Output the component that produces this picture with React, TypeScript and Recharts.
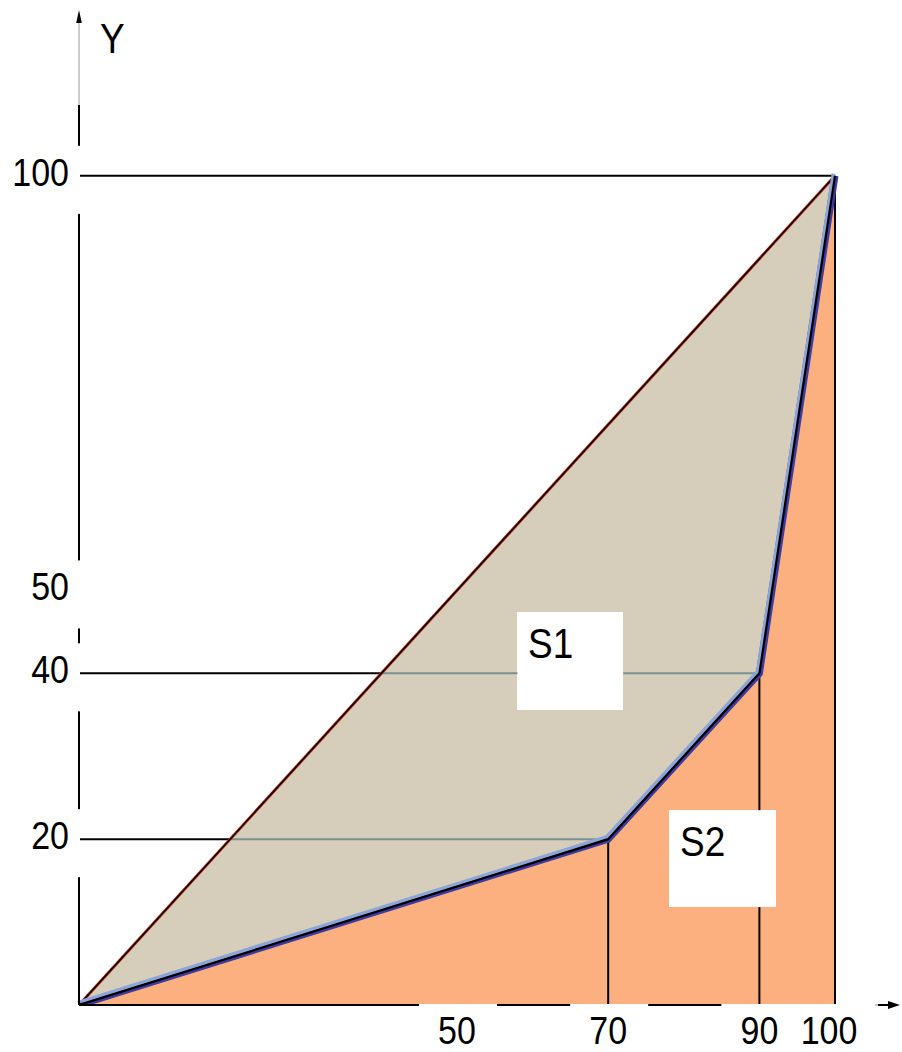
import React from 'react';
import {
  ComposedChart,
  Area,
  Line,
  XAxis,
  YAxis,
  ReferenceLine,
  ReferenceArea,
} from 'recharts';

// Lorenz curve: cumulative share of population (x) against cumulative share of income (y), in %
const populationShare = [0, 70, 90, 100];
const incomeShare = [0, 20, 40, 100];
const equalityLine = [0, 100];

const xTicks = [50, 70, 90, 100];
const yTicks = [20, 40, 50, 100];

// the white name boxes of the two areas, in data units
const areaBoxes = [
  { name: 'S1', x1: 58, x2: 72, y1: 35.6, y2: 47.4 },
  { name: 'S2', x1: 78, x2: 92.2, y1: 11.8, y2: 23.5 },
];

const lorenzData = populationShare.map((x, i) => ({ x, y: incomeShare[i] }));
const equalityData = equalityLine.map((x) => ({ x, y: x }));
// the kinks of the curve get guide lines back to both axes
const kinks = lorenzData.slice(1);

const FONT = '"Liberation Sans", Arial, sans-serif';
const BEIGE = '#d6cdbb';
const ORANGE = '#fdb07f';
const GUIDE_GREY = '#7a9191';

type Seg = { x1: number; y1: number; x2: number; y2: number };

// guide lines stop at the name boxes (they sit behind them in the original)
function cutByBoxes(seg: Seg): Seg[] {
  let parts = [seg];
  for (const b of areaBoxes) {
    parts = parts.flatMap((s) => {
      if (s.y1 === s.y2 && s.y1 > b.y1 && s.y1 < b.y2) {
        const lo = Math.min(s.x1, s.x2);
        const hi = Math.max(s.x1, s.x2);
        if (b.x2 <= lo || b.x1 >= hi) return [s];
        const out: Seg[] = [];
        if (b.x1 > lo) out.push({ ...s, x1: lo, x2: b.x1 });
        if (b.x2 < hi) out.push({ ...s, x1: b.x2, x2: hi });
        return out;
      }
      if (s.x1 === s.x2 && s.x1 > b.x1 && s.x1 < b.x2) {
        const lo = Math.min(s.y1, s.y2);
        const hi = Math.max(s.y1, s.y2);
        if (b.y2 <= lo || b.y1 >= hi) return [s];
        const out: Seg[] = [];
        if (b.y1 > lo) out.push({ ...s, y1: lo, y2: b.y1 });
        if (b.y2 < hi) out.push({ ...s, y1: b.y2, y2: hi });
        return out;
      }
      return [s];
    });
  }
  return parts;
}

const blackGuides: Seg[] = kinks.flatMap((p) => [
  { x1: 0, y1: p.y, x2: p.y, y2: p.y },
  ...cutByBoxes({ x1: p.x, y1: 0, x2: p.x, y2: p.y }),
]);
const greyGuides: Seg[] = kinks
  .filter((p) => p.x > p.y)
  .flatMap((p) => cutByBoxes({ x1: p.y, y1: p.y, x2: p.x, y2: p.y }));

function YTick({ x, y, payload }: any) {
  return (
    <g>
      <rect x={x - 69} y={y - 30} width={80} height={68} fill="#fff" stroke="none" />
      <text
        transform={`translate(${x},${y + 10}) scale(1,1.15)`}
        textAnchor="end"
        fontSize={34}
        fontFamily={FONT}
        fill="#000"
      >
        {payload.value}
      </text>
    </g>
  );
}

function XTick({ x, y, payload }: any) {
  return (
    <g>
      <rect x={x - 38} y={y - 1} width={78} height={48} fill="#fff" stroke="none" />
      <text
        transform={`translate(${x - (payload.value === 100 ? 6 : 0)},${y + 39}) scale(1,1.15)`}
        textAnchor="middle"
        fontSize={34}
        fontFamily={FONT}
        fill="#000"
      >
        {payload.value}
      </text>
    </g>
  );
}

function AxisTitle({ viewBox }: any) {
  const vb = viewBox ?? { x: 9, y: 10, width: 70 };
  return (
    <text
      transform={`translate(${vb.x + vb.width + 21},${vb.y + 43}) scale(1,1.15)`}
      fontSize={37}
      fontFamily={FONT}
      fill="#000"
    >
      Y
    </text>
  );
}

function labelBox(text: string) {
  return function Box({ x, y, width, height }: any) {
    const left = Math.round(x);
    const top = Math.round(y);
    return (
      <g>
        <rect
          x={left}
          y={top}
          width={Math.round(width)}
          height={Math.round(height)}
          fill="#fff"
          fillOpacity={1}
          stroke="none"
        />
        <text
          transform={`translate(${left + 11},${top + 46}) scale(1,1.15)`}
          fontSize={37}
          fontFamily={FONT}
          fill="#000"
        >
          {text}
        </text>
      </g>
    );
  };
}

export default function App() {
  return (
    <div>
      <style>{`html,body{margin:0;overflow:hidden}.recharts-wrapper svg{display:block}.lorenz-hi .recharts-line-curve{transform:translate(-1.6px,-2.2px)}`}</style>
      <ComposedChart
        width={902}
        height={1052}
        margin={{ top: 10, right: 2, bottom: 0, left: 9 }}
      >
        <defs>
          <marker
            id="arrowX"
            markerUnits="userSpaceOnUse"
            markerWidth={24}
            markerHeight={10}
            refX={22}
            refY={5}
            orient="auto-start-reverse"
          >
            <path d="M0,5 H14" stroke="#000" strokeWidth={2} />
            <path d="M10,1 L22,5 L10,9 z" fill="#000" />
          </marker>
          <marker
            id="arrowY"
            markerUnits="userSpaceOnUse"
            markerWidth={14}
            markerHeight={8}
            refX={13}
            refY={4}
            orient="auto-start-reverse"
          >
            <path d="M0,1.2 L13,4 L0,6.8 z" fill="#000" />
          </marker>
        </defs>

        <Area
          data={equalityData}
          dataKey="y"
          type="linear"
          fill={BEIGE}
          fillOpacity={1}
          stroke="none"
          dot={false}
          activeDot={false}
          isAnimationActive={false}
        />
        <Area
          data={lorenzData}
          dataKey="y"
          type="linear"
          fill={ORANGE}
          fillOpacity={1}
          stroke="none"
          dot={false}
          activeDot={false}
          isAnimationActive={false}
        />

        {blackGuides.map((s, i) => (
          <ReferenceLine
            key={`guide-${i}`}
            segment={[{ x: s.x1, y: s.y1 }, { x: s.x2, y: s.y2 }]}
            stroke="#000"
            strokeWidth={2}
            ifOverflow="visible"
          />
        ))}
        {greyGuides.map((s, i) => (
          <ReferenceLine
            key={`grey-${i}`}
            segment={[{ x: s.x1, y: s.y1 }, { x: s.x2, y: s.y2 }]}
            stroke={GUIDE_GREY}
            strokeWidth={2}
            ifOverflow="visible"
          />
        ))}

        <Line
          data={equalityData}
          dataKey="y"
          type="linear"
          stroke="#d8341c"
          strokeWidth={3}
          dot={false}
          activeDot={false}
          isAnimationActive={false}
        />
        <Line
          data={equalityData}
          dataKey="y"
          type="linear"
          stroke="#000"
          strokeWidth={1.6}
          dot={false}
          activeDot={false}
          isAnimationActive={false}
        />

        <Line
          data={lorenzData}
          dataKey="y"
          type="linear"
          stroke="#3a3aa0"
          strokeWidth={7}
          dot={false}
          activeDot={false}
          isAnimationActive={false}
        />
        <Line
          className="lorenz-hi"
          data={lorenzData}
          dataKey="y"
          type="linear"
          stroke="#8ca4d6"
          strokeWidth={3.5}
          dot={false}
          activeDot={false}
          isAnimationActive={false}
        />
        <Line
          data={lorenzData}
          dataKey="y"
          type="linear"
          stroke="#000"
          strokeWidth={2.2}
          dot={false}
          activeDot={false}
          isAnimationActive={false}
        />

        {areaBoxes.map((b) => (
          <ReferenceArea
            key={b.name}
            x1={b.x1}
            x2={b.x2}
            y1={b.y1}
            y2={b.y2}
            ifOverflow="visible"
            stroke="none"
            shape={labelBox(b.name)}
          />
        ))}

        <XAxis
          dataKey="x"
          type="number"
          domain={[0, 108.6]}
          allowDataOverflow
          ticks={xTicks}
          interval={0}
          height={47}
          tickSize={0}
          tickMargin={0}
          tickLine={false}
          tick={XTick}
          axisLine={{
            stroke: '#000',
            strokeWidth: 2,
            strokeDasharray: '756 2000',
            markerEnd: 'url(#arrowX)',
          }}
        />
        <YAxis
          type="number"
          domain={[0, 120]}
          allowDataOverflow
          ticks={yTicks}
          interval={0}
          width={70}
          tickSize={0}
          tickMargin={10}
          tickLine={false}
          tick={YTick}
          axisLine={{
            stroke: '#000',
            strokeWidth: 2,
            strokeDasharray: '0 95 2000',
            markerStart: 'url(#arrowY)',
          }}
          label={{ content: AxisTitle }}
        />

        <ReferenceLine
          segment={[{ x: 0, y: 108.5 }, { x: 0, y: 119 }]}
          stroke="#999"
          strokeWidth={1}
          ifOverflow="visible"
        />
        <ReferenceLine
          segment={[{ x: 100, y: 0 }, { x: 105.8, y: 0 }]}
          stroke="#999"
          strokeWidth={1}
          ifOverflow="visible"
        />
      </ComposedChart>
    </div>
  );
}
